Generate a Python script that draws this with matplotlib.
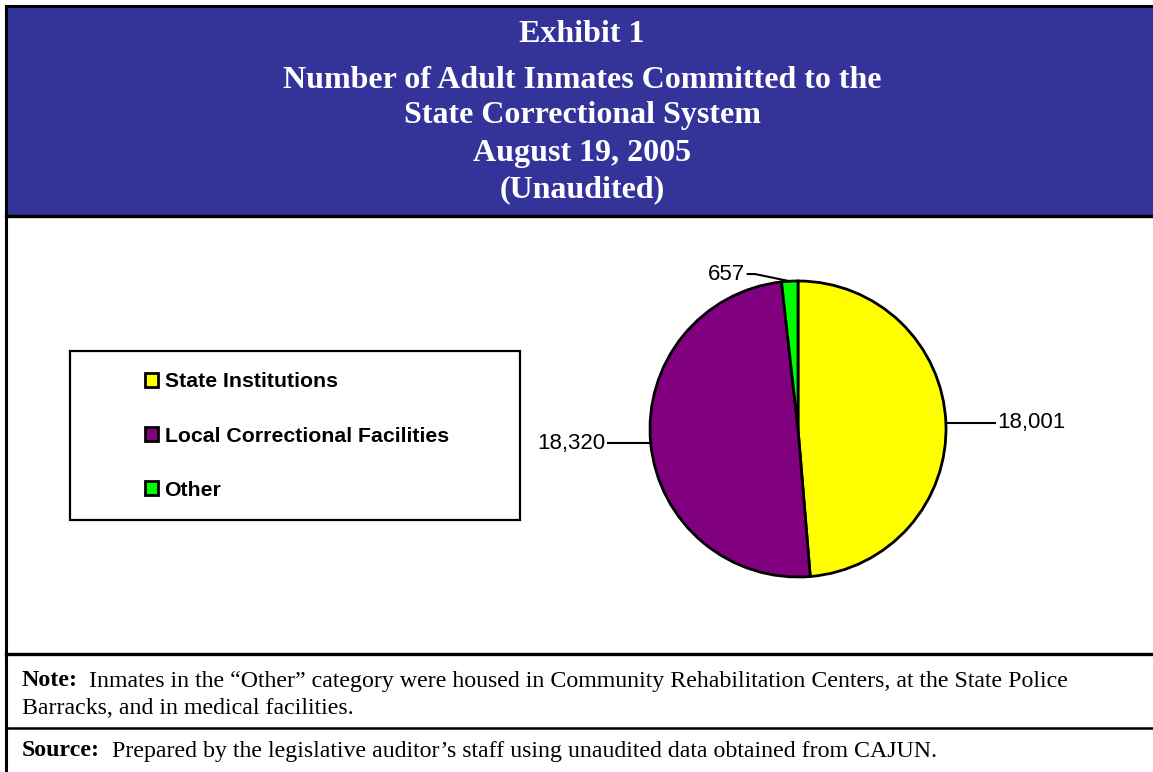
import numpy as np
import matplotlib.pyplot as plt
from matplotlib.patches import Rectangle

# data
categories = ["State Institutions", "Local Correctional Facilities", "Other"]
inmates = [18001, 18320, 657]
colors = ["#FFFF00", "#800080", "#00FF00"]
title_lines = ["Exhibit 1", "Number of Adult Inmates Committed to the",
               "State Correctional System", "August 19, 2005", "(Unaudited)"]
title_y = [35, 80, 116, 153, 190]
note_lines = ["Inmates in the \u201cOther\u201d category were housed in Community Rehabilitation Centers, at the State Police",
              "Barracks, and in medical facilities."]
source_text = "Prepared by the legislative auditor\u2019s staff using unaudited data obtained from CAJUN."

W, H = 1153, 772
fig = plt.figure(figsize=(W / 100, H / 100), dpi=100)

# background layer in pixel coords
bg = fig.add_axes([0, 0, 1, 1])
bg.set_xlim(0, W)
bg.set_ylim(H, 0)
bg.axis('off')
bg.add_patch(Rectangle((6, 6), W, 209, facecolor="#333399", edgecolor="none"))
bg.plot([6, W], [6, 6], color='black', lw=2.2)
bg.plot([6, 6], [6, H], color='black', lw=2.2)
bg.plot([6, W], [216, 216], color='black', lw=2.4)
bg.plot([6, W], [654, 654], color='black', lw=2.4)
bg.plot([6, W], [728, 728], color='black', lw=1.8)

serif = "Liberation Serif"
for t, y in zip(title_lines, title_y):
    bg.text(582, y, t, ha='center', va='center', color='white', fontsize=23,
            fontweight='bold', family=serif)

fs = 17.2
bg.text(22, 681, "Note:", ha='left', va='center', fontsize=fs, fontweight='bold', family=serif)
bg.text(89, 681, note_lines[0], ha='left', va='center', fontsize=fs, family=serif)
bg.text(22, 708, note_lines[1], ha='left', va='center', fontsize=fs, family=serif)
bg.text(22, 751, "Source:", ha='left', va='center', fontsize=fs, fontweight='bold', family=serif)
bg.text(112, 751, source_text, ha='left', va='center', fontsize=fs, family=serif)

# legend box
bg.add_patch(Rectangle((70, 351), 450, 169, facecolor='none', edgecolor='black', lw=1.6))

# pie
cx, cy, r = 798, 429, 148
pax = fig.add_axes([(cx - r) / W, (H - cy - r) / H, 2 * r / W, 2 * r / H])
wedges, _ = pax.pie(inmates, colors=colors, startangle=90, counterclock=False,
                    wedgeprops=dict(edgecolor='black', linewidth=2.0))
pax.set_xlim(-1, 1)
pax.set_ylim(-1, 1)
pax.set_aspect('equal')
pax.axis('off')

lab_font = dict(fontsize=16, family="Liberation Sans")
for w, v in zip(wedges, inmates):
    mid = np.deg2rad((w.theta1 + w.theta2) / 2)
    x0, y0 = np.cos(mid), np.sin(mid)
    txt = f"{v:,}"
    if v < 1000:
        pts_x = [x0, -0.29, -0.34]
        pts_y = [y0, 1.047, 1.047]
        pax.plot(pts_x, pts_y, color='black', lw=1.5, clip_on=False)
        pax.text(-0.355, 1.047, txt, ha='right', va='center', **lab_font)
    elif x0 > 0:
        pax.plot([x0, 1.33], [y0, y0], color='black', lw=1.5, clip_on=False)
        pax.text(1.345, y0, txt, ha='left', va='center', **lab_font)
    else:
        pax.plot([x0, -1.284], [y0, y0], color='black', lw=1.5, clip_on=False)
        pax.text(-1.30, y0, txt, ha='right', va='center', **lab_font)

leg = fig.legend(wedges, categories, loc='center left',
                 bbox_to_anchor=(145 / W, (H - 436) / H), frameon=False,
                 prop=dict(family="Liberation Sans", weight='bold', size=15.3),
                 handlelength=0.62, handleheight=0.62, handletextpad=0.3,
                 labelspacing=1.66, borderpad=0, borderaxespad=0)

fig.savefig("out.png", dpi=100)
